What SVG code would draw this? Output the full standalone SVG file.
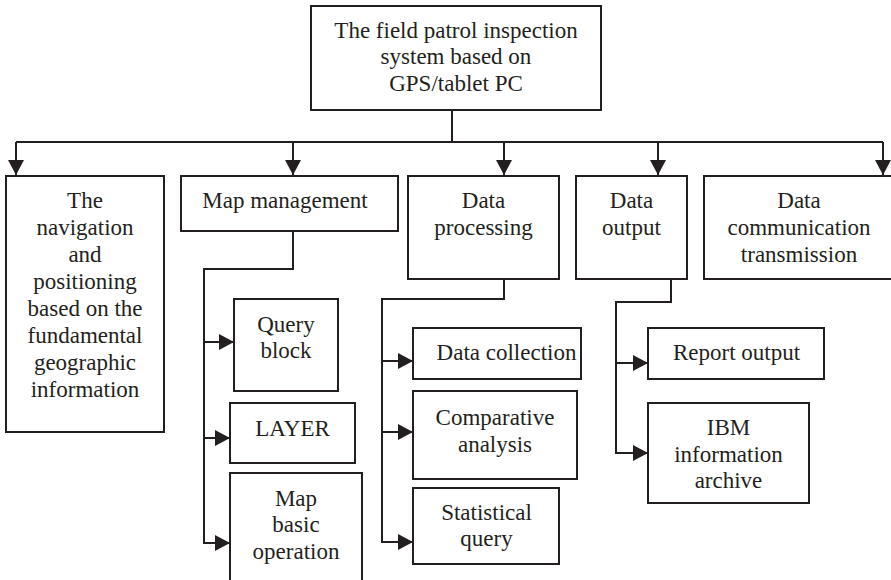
<svg xmlns="http://www.w3.org/2000/svg" width="891" height="580" viewBox="0 0 891 580">
  <style>
    .box { fill: #ffffff; stroke: #231f20; stroke-width: 2; }
    .wire { fill: none; stroke: #231f20; stroke-width: 2; }
    .arrow { fill: none; stroke: #231f20; stroke-width: 2; marker-end: url(#head); }
    .label { font-family: 'Liberation Serif', 'Times New Roman', Times, serif; font-size: 23px; fill: #231f20; text-anchor: middle; }
  </style>
  <defs>
    <marker id="head" markerUnits="userSpaceOnUse" markerWidth="15" markerHeight="16" refX="15" refY="8" orient="auto">
      <path d="M0,0 L15,8 L0,16 z" fill="#231f20"/>
    </marker>
  </defs>
  <rect width="891" height="580" fill="#ffffff"/>

  <!-- connectors -->
  <g id="connectors">
    <path class="wire" d="M452,110 V142"/>
    <path class="wire" d="M16,142 H883"/>
    <path class="arrow" d="M16,142 V175"/>
    <path class="arrow" d="M293,142 V175"/>
    <path class="arrow" d="M504,142 V175"/>
    <path class="arrow" d="M658,142 V175"/>
    <path class="arrow" d="M883,142 V175"/>

    <path class="wire" d="M293,231 V269 H204 V543"/>
    <path class="arrow" d="M204,342 H234"/>
    <path class="arrow" d="M204,438 H230"/>
    <path class="arrow" d="M203,543 H230"/>

    <path class="wire" d="M504,279 V299 H382 V542"/>
    <path class="arrow" d="M382,361 H413"/>
    <path class="arrow" d="M382,432 H413"/>
    <path class="arrow" d="M381,542 H413"/>

    <path class="wire" d="M671,279 V302 H616 V453"/>
    <path class="arrow" d="M616,363 H648"/>
    <path class="arrow" d="M615,453 H648"/>
  </g>

  <g class="label" font-family="Liberation Serif, serif">
  <g id="root">
    <rect class="box" x="311" y="6" width="290" height="104"/>
    <text x="456" y="37.5">The field patrol inspection</text>
    <text x="456" y="64">system based on</text>
    <text x="456" y="90.5">GPS/tablet PC</text>
  </g>

  <g id="navigation">
    <rect class="box" x="6" y="176" width="158" height="256"/>
    <text x="85" y="207.5">The</text>
    <text x="85" y="234.5">navigation</text>
    <text x="85" y="261.5">and</text>
    <text x="85" y="288.5">positioning</text>
    <text x="85" y="315.5">based on the</text>
    <text x="85" y="342.5">fundamental</text>
    <text x="85" y="369.5">geographic</text>
    <text x="85" y="396.5">information</text>
  </g>

  <g id="map-management">
    <rect class="box" x="181" y="176" width="217" height="55"/>
    <text x="285" y="208">Map management</text>
  </g>

  <g id="data-processing">
    <rect class="box" x="408" y="176" width="151" height="103"/>
    <text x="483.5" y="207.5">Data</text>
    <text x="483.5" y="234.5">processing</text>
  </g>

  <g id="data-output">
    <rect class="box" x="576" y="176" width="111" height="103"/>
    <text x="631.5" y="207.5">Data</text>
    <text x="631.5" y="234.5">output</text>
  </g>

  <g id="data-communication">
    <rect class="box" x="704" y="176" width="192" height="103"/>
    <text x="799" y="207.5">Data</text>
    <text x="799" y="234.5">communication</text>
    <text x="799" y="261.5">transmission</text>
  </g>

  <g id="query-block">
    <rect class="box" x="234" y="299" width="104" height="92"/>
    <text x="286" y="331.5">Query</text>
    <text x="286" y="358">block</text>
  </g>

  <g id="layer">
    <rect class="box" x="230" y="403" width="125" height="60"/>
    <text x="292.5" y="435.5">LAYER</text>
  </g>

  <g id="map-basic-operation">
    <rect class="box" x="230" y="473" width="132" height="120"/>
    <text x="296" y="506">Map</text>
    <text x="296" y="532">basic</text>
    <text x="296" y="559">operation</text>
  </g>

  <g id="data-collection">
    <rect class="box" x="413" y="328" width="168" height="51"/>
    <text x="506.5" y="360">Data collection</text>
  </g>

  <g id="comparative-analysis">
    <rect class="box" x="413" y="391" width="164" height="88"/>
    <text x="495" y="425">Comparative</text>
    <text x="495" y="451.5">analysis</text>
  </g>

  <g id="statistical-query">
    <rect class="box" x="413" y="488" width="146" height="76"/>
    <text x="486.5" y="520">Statistical</text>
    <text x="486.5" y="545.5">query</text>
  </g>

  <g id="report-output">
    <rect class="box" x="648" y="328" width="176" height="51"/>
    <text x="736.5" y="360">Report output</text>
  </g>

  <g id="ibm-archive">
    <rect class="box" x="648" y="403" width="161" height="100"/>
    <text x="728.5" y="435">IBM</text>
    <text x="728.5" y="461.5">information</text>
    <text x="728.5" y="488">archive</text>
  </g>
  </g>
</svg>
